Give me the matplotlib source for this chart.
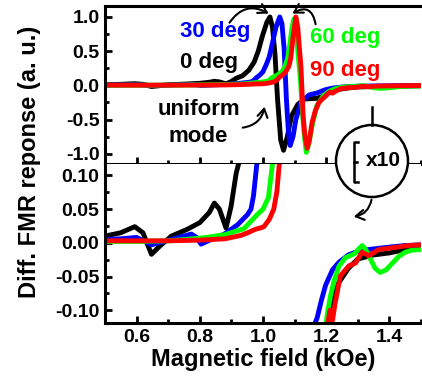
import matplotlib
matplotlib.use("Agg")
import matplotlib.pyplot as plt
import numpy as np
from matplotlib.patches import Circle, FancyArrowPatch
from matplotlib.ticker import MultipleLocator

plt.rcParams['font.family'] = ['Liberation Sans', 'DejaVu Sans']
plt.rcParams['font.weight'] = 'bold'

# field (kOe) / derivative signal (a.u.)
x_0deg = [0.50, 0.55, 0.594, 0.62, 0.647, 0.673, 0.71, 0.76, 0.80, 0.83, 0.846, 0.862,
          0.883, 0.899, 0.915, 0.935, 0.955, 0.972, 0.985, 0.998, 1.012, 1.022, 1.03,
          1.038, 1.046, 1.056, 1.065, 1.077, 1.09, 1.11, 1.13, 1.17, 1.19, 1.205, 1.22,
          1.24, 1.27, 1.30, 1.35, 1.40, 1.45, 1.50]
y_0deg = [0.010, 0.015, 0.024, 0.015, -0.017, -0.005, 0.010, 0.020, 0.030, 0.045, 0.059, 0.050,
          0.022, 0.054, 0.103, 0.14, 0.22, 0.34, 0.50, 0.72, 0.92, 1.0, 0.85,
          0.45, -0.2, -0.8, -0.95, -0.75, -0.45, -0.28, -0.2, -0.19, -0.16, -0.12, -0.085,
          -0.059, -0.038, -0.024, -0.018, -0.015, -0.01, -0.007]

x_30deg = [0.50, 0.55, 0.60, 0.647, 0.71, 0.773, 0.79, 0.804, 0.836, 0.878, 0.92, 0.951,
           0.962, 0.97, 0.98, 0.99, 1.0, 1.01, 1.02, 1.03, 1.041, 1.053, 1.06, 1.067,
           1.074, 1.08, 1.086, 1.095, 1.104, 1.12, 1.146, 1.171, 1.185, 1.198, 1.22, 1.24,
           1.27, 1.303, 1.35, 1.407, 1.45, 1.50]
y_30deg = [0.005, 0.006, 0.008, -0.003, 0.005, 0.013, 0.008, -0.002, 0.005, 0.013, 0.027, 0.042,
           0.05, 0.07, 0.115, 0.15, 0.2, 0.3, 0.42, 0.62, 0.85, 1.0, 0.9, 0.53,
           -0.2, -0.65, -0.88, -0.75, -0.5, -0.25, -0.14, -0.112, -0.085, -0.063, -0.04, -0.029,
           -0.018, -0.012, -0.009, -0.006, -0.004, -0.003]

x_60deg = [0.50, 0.60, 0.70, 0.755, 0.82, 0.878, 0.94, 0.982, 1.0, 1.017, 1.03, 1.045,
           1.06, 1.07, 1.078, 1.085, 1.092, 1.098, 1.105, 1.112, 1.119, 1.125, 1.13, 1.137,
           1.145, 1.155, 1.17, 1.19, 1.203, 1.213, 1.224, 1.24, 1.261, 1.29, 1.305, 1.314,
           1.325, 1.34, 1.355, 1.371, 1.39, 1.408, 1.43, 1.45, 1.47, 1.50]
y_60deg = [0.002, 0.002, 0.003, 0.005, 0.008, 0.012, 0.021, 0.042, 0.05, 0.067, 0.117, 0.15,
           0.2, 0.28, 0.4, 0.6, 0.85, 0.97, 0.8, 0.4, 0.05, -0.4, -0.7, -0.98,
           -0.85, -0.6, -0.3, -0.16, -0.107, -0.08, -0.058, -0.035, -0.022, -0.016, -0.008, -0.004,
           -0.01, -0.024, -0.038, -0.044, -0.04, -0.031, -0.02, -0.014, -0.011, -0.01]

x_90deg = [0.50, 0.60, 0.70, 0.80, 0.88, 0.93, 0.952, 0.975, 0.991, 1.003, 1.02, 1.034,
           1.044, 1.052, 1.062, 1.072, 1.082, 1.088, 1.095, 1.104, 1.11, 1.115, 1.12, 1.127,
           1.133, 1.14, 1.147, 1.155, 1.165, 1.177, 1.19, 1.20, 1.205, 1.212, 1.22, 1.228,
           1.245, 1.272, 1.293, 1.313, 1.335, 1.366, 1.40, 1.43, 1.46, 1.50]
y_90deg = [0.003, 0.003, 0.003, 0.004, 0.006, 0.011, 0.015, 0.02, 0.022, 0.024, 0.035, 0.05,
           0.076, 0.12, 0.15, 0.2, 0.28, 0.4, 0.7, 1.0, 0.85, 0.55, 0.28, -0.45,
           -0.75, -0.92, -0.8, -0.55, -0.38, -0.25, -0.19, -0.15, -0.12, -0.10, -0.115, -0.09,
           -0.049, -0.034, -0.03, -0.014, -0.019, -0.01, -0.008, -0.006, -0.004, -0.003]

curves = [(x_0deg, y_0deg, 'black'), (x_30deg, y_30deg, '#0000FF'),
          (x_60deg, y_60deg, '#00FF00'), (x_90deg, y_90deg, '#FF0000')]

W, H = 422, 378
fig = plt.figure(figsize=(W / 100, H / 100), dpi=100)
ax_top = fig.add_axes([105 / W, 1 - 164 / H, 316 / W, 158 / H])
ax_bot = fig.add_axes([105 / W, 1 - 323 / H, 316 / W, 159 / H])

for x, y, c in curves:
    ax_top.plot(x, y, color=c, lw=3.5, solid_joinstyle='round')
    # x10 panel: only the wings, below the peak and above the dip
    i_pk, i_mn = int(np.argmax(y)), int(np.argmin(y))
    ax_bot.plot(x[:i_pk + 1], y[:i_pk + 1], color=c, lw=3.5, solid_joinstyle='round')
    ax_bot.plot(x[i_mn:], y[i_mn:], color=c, lw=3.5, solid_joinstyle='round')

ax_top.set_ylim(-1.15, 1.16)
ax_bot.set_ylim(-0.119, 0.117)
ax_top.yaxis.set_major_locator(MultipleLocator(0.5))
ax_top.yaxis.set_minor_locator(MultipleLocator(0.25))
ax_bot.yaxis.set_major_locator(MultipleLocator(0.05))
ax_bot.yaxis.set_minor_locator(MultipleLocator(0.025))
ax_top.yaxis.set_major_formatter(plt.FuncFormatter(lambda v, p: f"{v:.1f}"))
ax_bot.yaxis.set_major_formatter(plt.FuncFormatter(lambda v, p: f"{v:.2f}"))

for ax in (ax_top, ax_bot):
    ax.set_xlim(0.5, 1.5)
    ax.xaxis.set_major_locator(MultipleLocator(0.2))
    ax.xaxis.set_minor_locator(MultipleLocator(0.1))
    for s in ax.spines.values():
        s.set_linewidth(2.2)
    ax.tick_params(which='both', direction='in', width=2, labelsize=14, pad=4)
    ax.tick_params(which='major', length=5)
    ax.tick_params(which='minor', length=3)
    for lab in ax.get_xticklabels() + ax.get_yticklabels():
        lab.set_fontweight('bold')
ax_top.tick_params(labelbottom=False)
ax_top.spines['right'].set_visible(False)
ax_bot.spines['right'].set_visible(False)
ax_bot.spines['top'].set_visible(False)

ax_bot.set_xlabel('Magnetic field (kOe)', fontsize=17, fontweight='bold', labelpad=2)
fig.text(30 / W, 1 - 162 / H, 'Diff. FMR reponse (a. u.)', rotation=90, fontsize=17,
         fontweight='bold', ha='center', va='center')

# labels in the upper panel
tk = dict(fontsize=16, fontweight='bold', va='center')
ax_top.text(0.736, 0.78, '30 deg', color='#0000FF', **tk)
ax_top.text(0.736, 0.34, '0 deg', color='black', **tk)
ax_top.text(1.149, 0.70, '60 deg', color='#00FF00', **tk)
ax_top.text(1.149, 0.21, '90 deg', color='#FF0000', **tk)
ax_top.text(0.796, -0.35, 'uniform', color='black', ha='center', fontsize=16,
            fontweight='bold', va='center')
ax_top.text(0.796, -0.75, 'mode', color='black', ha='center', fontsize=16,
            fontweight='bold', va='center')

# overlay in pixel coordinates for the sketch marks
ov = fig.add_axes([0, 0, 1, 1], zorder=10)
ov.set_xlim(0, W)
ov.set_ylim(H, 0)
ov.axis('off')
ov.patch.set_alpha(0)

arr = dict(arrowstyle='->,head_length=0.5,head_width=0.3', lw=1.5, color='black',
           mutation_scale=12)
ov.add_patch(FancyArrowPatch((228, 25), (271, 15), connectionstyle='arc3,rad=-0.5', **arr))
ov.add_patch(FancyArrowPatch((316, 27), (290, 15), connectionstyle='arc3,rad=0.8', **arr))
ov.add_patch(FancyArrowPatch((240, 128), (265, 104), connectionstyle='arc3,rad=0.4', **arr))
ov.add_patch(FancyArrowPatch((372, 197), (351, 217), connectionstyle='arc3,rad=-0.4', **arr))

ov.add_patch(Circle((372, 161), 36, fc='white', ec='black', lw=1.8))
ov.plot([372, 372], [107, 125], color='black', lw=1.8)
ov.plot([358, 354, 354, 358], [142, 142, 182, 182], color='black', lw=1.8)
ov.plot([354, 357], [162, 162], color='black', lw=1.8)
ov.text(383, 161, 'x10', fontsize=15, fontweight='bold', ha='center', va='center')

fig.savefig('out.png', dpi=100)
